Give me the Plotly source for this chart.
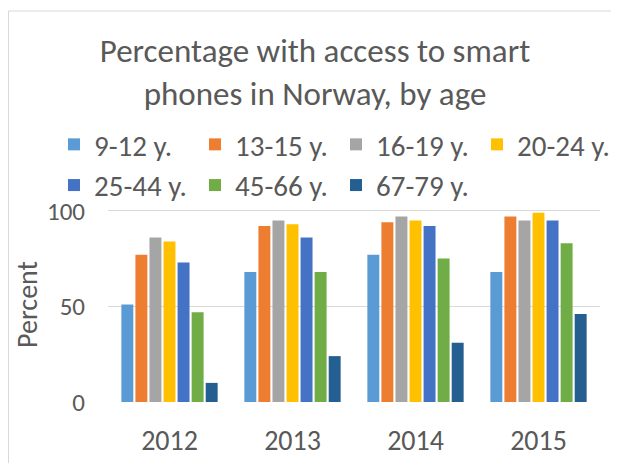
import plotly.graph_objects as go

years = ["2012", "2013", "2014", "2015"]
age_groups = ["9-12 y.", "13-15 y.", "16-19 y.", "20-24 y.", "25-44 y.", "45-66 y.", "67-79 y."]
v_9_12 = [51, 68, 77, 68]
v_13_15 = [77, 92, 94, 97]
v_16_19 = [86, 95, 97, 95]
v_20_24 = [84, 93, 95, 99]
v_25_44 = [73, 86, 92, 95]
v_45_66 = [47, 68, 75, 83]
v_67_79 = [10, 24, 31, 46]
series = [v_9_12, v_13_15, v_16_19, v_20_24, v_25_44, v_45_66, v_67_79]
colors = ["#5B9BD5", "#ED7D31", "#A5A5A5", "#FFC000", "#4472C4", "#70AD47", "#255E91"]

FONT = "Carlito, Calibri, 'Liberation Sans Narrow', 'Open Sans', sans-serif"
TXT = "#595959"

fig = go.Figure()
for name, vals, c in zip(age_groups, series, colors):
    fig.add_trace(go.Bar(x=years, y=vals, name=name, marker=dict(color=c, line=dict(width=0))))

# page body has an 8px margin, so the figure is drawn 8px in from the window edge
W, H = 603, 455
L, R, T, B = 100, 11, 199, 61
pw, ph = W - L - R, H - T - B

def px(x):
    return (x - L) / pw

def py(y):
    return (H - B - y) / ph

fig.update_layout(
    width=W, height=H,
    margin=dict(l=L, r=R, t=T, b=B, autoexpand=False),
    paper_bgcolor="white", plot_bgcolor="white",
    font=dict(family=FONT, color=TXT),
    barmode="group", bargap=0.2, bargroupgap=0.15,
    title=dict(text="Percentage with access to smart<br>phones in Norway, by age",
               x=307 / W, xanchor="center", xref="container",
               y=1 - 54 / H, yanchor="top", yref="container",
               font=dict(size=33, color=TXT, family=FONT)),
    legend=dict(orientation="h", x=px(46), xanchor="left", y=py(111), yanchor="top",
                entrywidth=96, entrywidthmode="pixels",
                font=dict(size=29, color=TXT, family=FONT),
                itemwidth=30, tracegroupgap=0, bgcolor="rgba(0,0,0,0)"),
    xaxis=dict(showgrid=False, showline=False, ticks="", ticklabelstandoff=19,
               tickfont=dict(size=28, color=TXT, family=FONT)),
    yaxis=dict(range=[0, 102], tickvals=[0, 50, 100], showgrid=True, gridcolor="#D9D9D9",
               gridwidth=1, zeroline=False, showline=False, ticks="", ticklabelstandoff=22,
               tickfont=dict(size=25, color=TXT, family=FONT),
               title=dict(text="Percent", font=dict(size=28, color=TXT, family=FONT), standoff=1)),
    shapes=[
        dict(type="line", xref="paper", yref="paper",
             x0=px(0.5), x1=px(620), y0=py(3), y1=py(3),
             line=dict(color="#D9D9D9", width=1), layer="below"),
        dict(type="line", xref="paper", yref="paper",
             x0=px(0.5), x1=px(0.5), y0=py(3), y1=py(470),
             line=dict(color="#D9D9D9", width=1), layer="below"),
    ],
)

fig.write_html("out.html")
